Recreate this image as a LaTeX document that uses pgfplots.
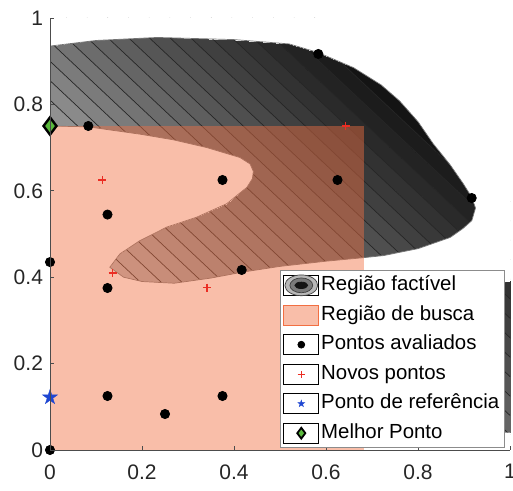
\documentclass[border=0pt]{standalone}
\usepackage{fontspec}
\setmainfont{Liberation Sans}
\usepackage{pgfplots}
\usepackage{pgfplotstable}
\pgfplotsset{compat=1.18}

\definecolor{busca}{RGB}{242,111,66}
\definecolor{novo}{RGB}{235,45,35}
\definecolor{refblue}{RGB}{30,70,210}
\definecolor{melhor}{RGB}{90,185,60}

% filled five-pointed star
\pgfdeclareplotmark{pstar}{%
  \pgfpathmoveto{\pgfqpointpolar{90}{\pgfplotmarksize}}%
  \pgfpathlineto{\pgfqpointpolar{126}{0.382\pgfplotmarksize}}%
  \pgfpathlineto{\pgfqpointpolar{162}{\pgfplotmarksize}}%
  \pgfpathlineto{\pgfqpointpolar{198}{0.382\pgfplotmarksize}}%
  \pgfpathlineto{\pgfqpointpolar{234}{\pgfplotmarksize}}%
  \pgfpathlineto{\pgfqpointpolar{270}{0.382\pgfplotmarksize}}%
  \pgfpathlineto{\pgfqpointpolar{306}{\pgfplotmarksize}}%
  \pgfpathlineto{\pgfqpointpolar{342}{0.382\pgfplotmarksize}}%
  \pgfpathlineto{\pgfqpointpolar{18}{\pgfplotmarksize}}%
  \pgfpathlineto{\pgfqpointpolar{54}{0.382\pgfplotmarksize}}%
  \pgfpathclose
  \pgfusepathqfillstroke}

% feasible region, split into triangles (colour follows f = x + y)
\pgfplotstableread{
x y
0 0.935
0.1 0.948
0 0.75
0.1 0.948
0.083 0.748
0 0.75
0.1 0.948
0.233 0.955
0.083 0.748
0.233 0.955
0.196 0.731
0.083 0.748
0.233 0.955
0.4 0.95
0.196 0.731
0.4 0.95
0.268 0.718
0.196 0.731
0.4 0.95
0.52 0.94
0.268 0.718
0.52 0.94
0.341 0.70
0.268 0.718
0.52 0.94
0.583 0.92
0.341 0.70
0.583 0.92
0.413 0.677
0.341 0.70
0.583 0.92
0.66 0.885
0.413 0.677
0.66 0.885
0.435 0.662
0.413 0.677
0.66 0.885
0.72 0.845
0.435 0.662
0.72 0.845
0.442 0.645
0.435 0.662
0.72 0.845
0.76 0.808
0.442 0.645
0.76 0.808
0.44 0.628
0.442 0.645
0.76 0.808
0.80 0.76
0.44 0.628
0.80 0.76
0.833 0.709
0.44 0.628
0.833 0.709
0.428 0.608
0.44 0.628
0.833 0.709
0.87 0.66
0.428 0.608
0.87 0.66
0.898 0.617
0.428 0.608
0.898 0.617
0.917 0.585
0.428 0.608
0.917 0.585
0.384 0.57
0.428 0.608
0.917 0.585
0.925 0.56
0.384 0.57
0.925 0.56
0.917 0.531
0.384 0.57
0.917 0.531
0.319 0.539
0.384 0.57
0.917 0.531
0.898 0.513
0.319 0.539
0.898 0.513
0.87 0.492
0.319 0.539
0.87 0.492
0.254 0.516
0.319 0.539
0.87 0.492
0.8 0.466
0.254 0.516
0.8 0.466
0.725 0.45
0.254 0.516
0.725 0.45
0.196 0.485
0.254 0.516
0.725 0.45
0.68 0.445
0.196 0.485
0.68 0.445
0.6 0.437
0.196 0.485
0.6 0.437
0.5 0.425
0.196 0.485
0.5 0.425
0.152 0.454
0.196 0.485
0.5 0.425
0.42 0.412
0.152 0.454
0.42 0.412
0.35 0.398
0.152 0.454
0.35 0.398
0.27 0.386
0.152 0.454
0.27 0.386
0.2 0.39
0.152 0.454
0.2 0.39
0.16 0.40
0.152 0.454
0.16 0.40
0.13 0.423
0.152 0.454
}\regiaotri

% small feasible piece on the right edge
\pgfplotstableread{
x y
0.984 0.04
1.0 0.04
1.0 0.392
0.984 0.04
1.0 0.392
0.988 0.388
0.984 0.04
0.988 0.388
0.984 0.376
}\pecatri

% outline of the feasible region (open along x = 0)
\pgfplotstableread{
x y
0 0.935
0.1 0.948
0.233 0.955
0.4 0.95
0.52 0.94
0.583 0.92
0.66 0.885
0.72 0.845
0.76 0.808
0.80 0.76
0.833 0.709
0.87 0.66
0.898 0.617
0.917 0.585
0.925 0.56
0.917 0.531
0.898 0.513
0.87 0.492
0.8 0.466
0.725 0.45
0.68 0.445
0.6 0.437
0.5 0.425
0.42 0.412
0.35 0.398
0.27 0.386
0.2 0.39
0.16 0.40
0.13 0.423
0.152 0.454
0.196 0.485
0.254 0.516
0.319 0.539
0.384 0.57
0.428 0.608
0.44 0.628
0.442 0.645
0.435 0.662
0.413 0.677
0.341 0.70
0.268 0.718
0.196 0.731
0.083 0.748
0 0.75
}\regiaoborda

% everything outside the feasible set (blanks the level lines there)
\pgfplotstableread{
x y
0 0
1 0
1 0.04
0.984 0.04
0.984 0.376
0.988 0.388
1 0.392
1 1
0 1
0 0.935
0.1 0.948
0.233 0.955
0.4 0.95
0.52 0.94
0.583 0.92
0.66 0.885
0.72 0.845
0.76 0.808
0.80 0.76
0.833 0.709
0.87 0.66
0.898 0.617
0.917 0.585
0.925 0.56
0.917 0.531
0.898 0.513
0.87 0.492
0.8 0.466
0.725 0.45
0.68 0.445
0.6 0.437
0.5 0.425
0.42 0.412
0.35 0.398
0.27 0.386
0.2 0.39
0.16 0.40
0.13 0.423
0.152 0.454
0.196 0.485
0.254 0.516
0.319 0.539
0.384 0.57
0.428 0.608
0.44 0.628
0.442 0.645
0.435 0.662
0.413 0.677
0.341 0.70
0.268 0.718
0.196 0.731
0.083 0.748
0 0.75
}\exterior

% level lines x + y = c, c = 0.54, 0.585, ..., 1.575
\pgfplotstableread{
x y
0 0.54
0.54 0
nan nan
0 0.585
0.585 0
nan nan
0 0.63
0.63 0
nan nan
0 0.675
0.675 0
nan nan
0 0.72
0.72 0
nan nan
0 0.765
0.765 0
nan nan
0 0.81
0.81 0
nan nan
0 0.855
0.855 0
nan nan
0 0.9
0.9 0
nan nan
0 0.945
0.945 0
nan nan
0 0.99
0.99 0
nan nan
0.035 1
1 0.035
nan nan
0.08 1
1 0.08
nan nan
0.125 1
1 0.125
nan nan
0.17 1
1 0.17
nan nan
0.215 1
1 0.215
nan nan
0.26 1
1 0.26
nan nan
0.305 1
1 0.305
nan nan
0.35 1
1 0.35
nan nan
0.395 1
1 0.395
nan nan
0.44 1
1 0.44
nan nan
0.485 1
1 0.485
nan nan
0.53 1
1 0.53
nan nan
0.575 1
1 0.575
}\niveis

\begin{document}
\begin{tikzpicture}
\begin{axis}[
  at={(0pt,0pt)}, anchor=south west,
  scale only axis, width=230pt, height=216pt,
  xmin=0, xmax=1, ymin=0, ymax=1,
  axis lines=left, axis on top,
  axis line style={-, draw=black!70, line width=0.4pt},
  xtick={0,0.2,0.4,0.6,0.8,1}, ytick={0,0.2,0.4,0.6,0.8,1},
  tick align=inside, major tick length=1.8pt,
  tick style={black!70, line width=0.4pt},
  tick label style={font=\fontsize{10.5}{12}\selectfont, text=black!85},
  xticklabel style={yshift=-3.7pt},
  /pgf/number format/assume math mode=true,
  clip mode=individual,
  unbounded coords=jump,
  colormap={cinza}{rgb255=(255,255,255) rgb255=(0,0,0)},
  colormap={degraus}{samples of colormap=(36 of cinza)},
  colormap access=piecewise constant,
  point meta min=0.09, point meta max=1.71,
  legend cell align=left,
  legend style={at={(0.5,0.4167)}, anchor=north west,
    draw=black!45, line width=0.4pt, fill=white,
    inner xsep=1.5pt, inner ysep=2.1pt, row sep=4.35pt, column sep=0pt,
    font=\fontsize{10.2}{12}\selectfont,
    nodes={inner xsep=1pt, inner ysep=0pt, text height=7.5pt, text depth=2.5pt}},
]

% legend entries
\addlegendimage{legend image code/.code={%
  \path (0pt,-5pt) rectangle (17.5pt,5pt);
  \draw[black!75, fill=black!28, line width=0.35pt] (8.75pt,0pt) ellipse [x radius=8.2pt, y radius=5.2pt];
  \draw[black!75, fill=black!52, line width=0.35pt] (8.75pt,0pt) ellipse [x radius=5.7pt, y radius=3.7pt];
  \fill[black!92] (8.75pt,0pt) ellipse [x radius=3.2pt, y radius=1.6pt];}}
\addlegendentry{Região factível}
\addlegendimage{legend image code/.code={%
  \fill[busca, fill opacity=0.45] (0pt,-5pt) rectangle (17.5pt,5pt);}}
\addlegendentry{Região de busca}
\addlegendimage{legend image code/.code={%
  \path (0pt,-5pt) rectangle (17.5pt,5pt);
  \fill[black] (8.75pt,0pt) circle (1.7pt);}}
\addlegendentry{Pontos avaliados}
\addlegendimage{legend image code/.code={%
  \path (0pt,-5pt) rectangle (17.5pt,5pt);
  \draw[novo, line width=0.6pt] (8.75pt,-1.8pt) -- (8.75pt,1.8pt) (6.95pt,0pt) -- (10.55pt,0pt);}}
\addlegendentry{Novos pontos}
\addlegendimage{legend image code/.code={%
  \path (0pt,-5pt) rectangle (17.5pt,5pt);
  \draw[refblue, fill=refblue, line width=0.2pt] plot[only marks, mark=pstar, mark size=1.8pt] coordinates {(8.75pt,0pt)};}}
\addlegendentry{Ponto de referência}
\addlegendimage{legend image code/.code={%
  \path (0pt,-5pt) rectangle (17.5pt,5pt);
  \draw[black, fill=melhor, line width=0.9pt] plot[only marks, mark=diamond*, mark size=2.7pt] coordinates {(8.75pt,0pt)};}}
\addlegendentry{Melhor Ponto}

% feasible region: banded fill, level lines, blank outside, outline
\addplot[forget plot, patch, shader=interp, point meta={x+y}] table {\regiaotri};
\addplot[forget plot, patch, shader=interp, point meta={x+y}] table {\pecatri};
\addplot[forget plot, black!85, line width=0.35pt] table {\niveis};
\addplot[forget plot, draw=none, fill=white] table {\exterior} -- cycle;
\addplot[forget plot, draw=black!55, line width=0.35pt] table {\regiaoborda};

% search region
\addplot[forget plot, draw=none, fill=busca, fill opacity=0.45] coordinates {(0,0) (0.683,0) (0.683,0.75) (0,0.75)} -- cycle;

% evaluated points
\addplot[forget plot, only marks, mark=*, mark size=2.3pt, black] coordinates {
  (0.5833,0.9167) (0.0833,0.75) (0.375,0.625) (0.625,0.625) (0.125,0.545)
  (0,0.435) (0.4167,0.4167) (0.125,0.375) (0.9167,0.5833)
  (0.125,0.125) (0.25,0.0833) (0.375,0.125) (0,0)};
% new points
\addplot[forget plot, only marks, mark=+, mark size=2pt, novo, line width=0.7pt] coordinates {
  (0.114,0.625) (0.136,0.41) (0.341,0.376) (0.643,0.75)};
% reference point
\addplot[forget plot, only marks, mark=pstar, mark size=3.9pt, refblue, fill=refblue, line width=0.2pt] coordinates {(0,0.122)};
% best point
\addplot[forget plot, only marks, mark=diamond*, mark size=4.3pt, mark options={draw=black, fill=melhor, line width=1.2pt}] coordinates {(0,0.75)};
\end{axis}
\pgfresetboundingbox
\path[use as bounding box] (-25pt,-20.5pt) rectangle (231.5pt,225pt);
\end{tikzpicture}
\end{document}
